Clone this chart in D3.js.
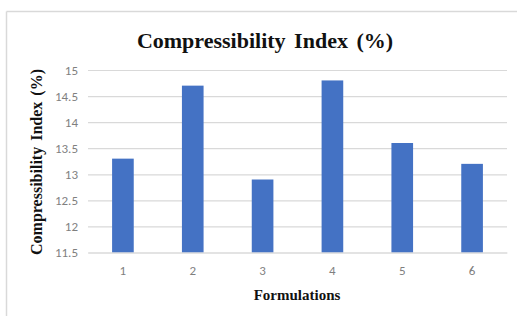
<!DOCTYPE html>
<html><head><meta charset="utf-8">
<script src="https://cdn.jsdelivr.net/npm/d3@7"></script>
<style>body{margin:0;background:#fff}</style>
</head><body>
<svg id="c" width="517" height="316"></svg>
<script>
const categories = ["1","2","3","4","5","6"];
const values = [13.3, 14.7, 12.9, 14.8, 13.6, 13.2];
const yTicks = [11.5, 12, 12.5, 13, 13.5, 14, 14.5, 15];
const title = "Compressibility Index (%)";
const xTitle = "Formulations";
const yTitle = "Compressibility Index (%)";

const svg = d3.select("#c");
// outer frame
svg.append("line").attr("x1",6.5).attr("x2",517).attr("y1",11.5).attr("y2",11.5).attr("stroke","#d9d9d9").attr("stroke-width",1.5);
svg.append("line").attr("x1",6.5).attr("x2",6.5).attr("y1",11.5).attr("y2",316).attr("stroke","#d9d9d9").attr("stroke-width",1.5);

const m = {left:88, right:507, top:70, bottom:252.5};
const x = d3.scaleBand().domain(categories).range([m.left, m.right]).paddingInner(0.69).paddingOuter(0.345);
const y = d3.scaleLinear().domain([11.5, 15]).range([m.bottom, m.top]);

const tickFont = "Carlito, 'Open Sans', 'Liberation Sans', Arial, sans-serif";
const gy = svg.append("g").attr("transform",`translate(${m.left},0)`)
  .call(d3.axisLeft(y).tickValues(yTicks).tickSize(-(m.right-m.left)).tickPadding(10).tickFormat(d3.format("")));
gy.select(".domain").remove();
gy.selectAll(".tick line").attr("stroke","#d9d9d9").attr("stroke-width",1.2);
gy.selectAll(".tick text").attr("fill","#7f7f7f").style("font-family",tickFont).style("font-size","13px");

svg.append("g").selectAll("rect").data(values).join("rect")
  .attr("x",(d,i)=>x(categories[i])).attr("width",x.bandwidth())
  .attr("y",d=>y(d)).attr("height",d=>y(11.5)-y(d)).attr("fill","#4472C4");

const gx = svg.append("g").attr("transform",`translate(0,${m.bottom})`)
  .call(d3.axisBottom(x).tickSize(0).tickPadding(13));
gx.select(".domain").attr("stroke","#d9d9d9").attr("stroke-width",1.2);
gx.selectAll(".tick text").attr("fill","#7f7f7f").style("font-family",tickFont).style("font-size","13px");

const serif = "'Liberation Serif', 'Times New Roman', serif";
svg.append("text").attr("x",265).attr("y",48).attr("text-anchor","middle")
  .style("font-family",serif).style("font-weight","bold").style("font-size","22px").style("word-spacing","3px").attr("fill","#111").text(title);
svg.append("text").attr("x",297).attr("y",300).attr("text-anchor","middle")
  .style("font-family",serif).style("font-weight","bold").style("font-size","15px").attr("fill","#111").text(xTitle);
svg.append("text").attr("transform","translate(42,162) rotate(-90)").attr("text-anchor","middle")
  .style("font-family",serif).style("font-weight","bold").style("font-size","16px").style("word-spacing","2px").attr("fill","#111").text(yTitle);
</script>
</body></html>
